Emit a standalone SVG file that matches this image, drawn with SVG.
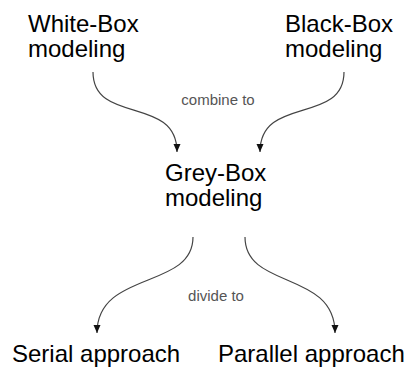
<svg xmlns="http://www.w3.org/2000/svg" width="406" height="370" viewBox="0 0 406 370">
<style>
.t{font-family:"Liberation Sans",Arial,sans-serif;font-size:24px;fill:#000}
.l{font-family:"Liberation Sans",Arial,sans-serif;font-size:15px;fill:#555}
.c{fill:none;stroke:#444;stroke-width:1.2}
</style>
<defs>
<marker id="ah" markerUnits="userSpaceOnUse" markerWidth="9" markerHeight="8" refX="8" refY="3.5" orient="auto">
<path d="M0,0 L8,3.5 L0,7 z" fill="#111"/>
</marker>
</defs>
<rect width="406" height="370" fill="#fff"/>
<g id="connectors">
<path class="c" d="M93,72 C93,125 177,95 177,152" marker-end="url(#ah)"/>
<path class="c" d="M344,72 C344,125 260,95 260,152" marker-end="url(#ah)"/>
<path class="c" d="M193,237 C193,290 97,270 97,333" marker-end="url(#ah)"/>
<path class="c" d="M245,237 C245,290 335,270 335,333" marker-end="url(#ah)"/>
<text class="l" x="218" y="105" text-anchor="middle">combine to</text>
<text class="l" x="216" y="301" text-anchor="middle">divide to</text>
</g>
<g id="white-box"><text class="t" x="28" y="32">White-Box</text><text class="t" x="28" y="57">modeling</text></g>
<g id="black-box"><text class="t" x="285" y="32">Black-Box</text><text class="t" x="285" y="57">modeling</text></g>
<g id="grey-box"><text class="t" x="165" y="181">Grey-Box</text><text class="t" x="165" y="206">modeling</text></g>
<g id="serial"><text class="t" x="12" y="362">Serial approach</text></g>
<g id="parallel"><text class="t" x="218" y="362">Parallel approach</text></g>
</svg>
